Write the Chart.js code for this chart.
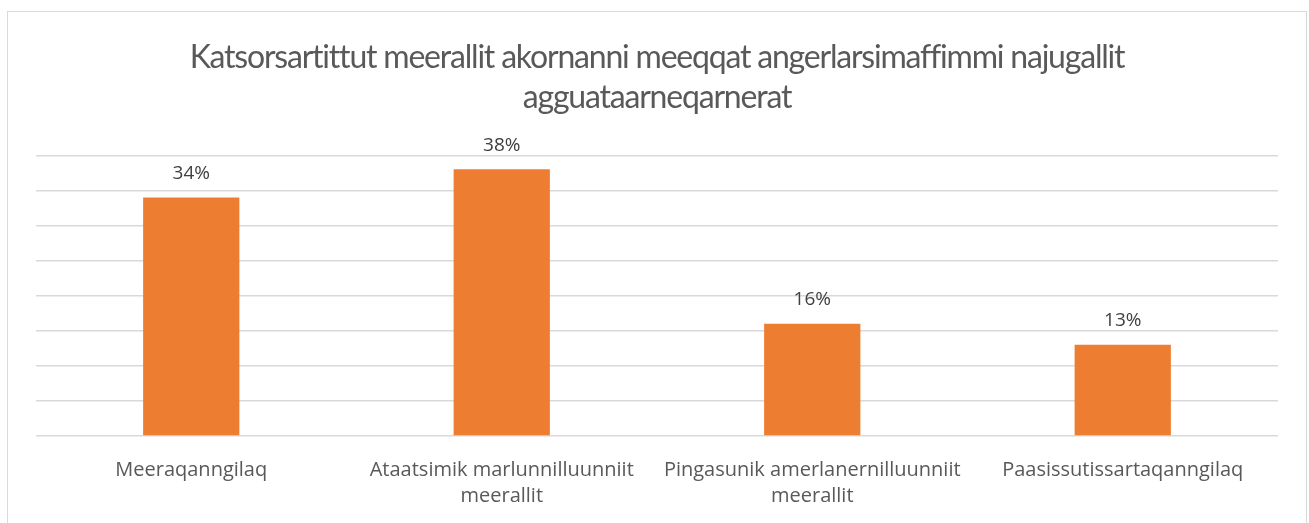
<!DOCTYPE html>
<html>
<head>
<meta charset="utf-8">
<script src="https://cdn.jsdelivr.net/npm/chart.js@4/dist/chart.umd.min.js"></script>
<style>
  html, body { margin: 0; padding: 0; background: #fff; }
  #wrap { position: relative; width: 1309px; height: 523px; overflow: hidden; }
  #frame { position: absolute; left: 7px; top: 11px; width: 1298px; height: 540px; border: 1px solid #d9d9d9; }
  canvas { position: absolute; left: 0; top: 0; }
</style>
</head>
<body>
<div id="wrap">
  <div id="frame"></div>
  <canvas id="chart" width="1309" height="523"></canvas>
</div>
<script>
var titleLines = ['Katsorsartittut meerallit akornanni meeqqat angerlarsimaffimmi najugallit', 'agguataarneqarnerat'];
var categories = [
    ['Meeraqanngilaq'],
    ['Ataatsimik marlunnilluunniit', 'meerallit'],
    ['Pingasunik amerlanernilluunniit', 'meerallit'],
    ['Paasissutissartaqanngilaq']
];
var shares = [34, 38, 16, 13];
var yMax = 40;
var yStep = 5;

// labels above the bars
var barLabels = {
    id: 'barLabels',
    afterDatasetsDraw: function (chart) {
        var c = chart.ctx;
        var meta = chart.getDatasetMeta(0);
        c.save();
        c.font = '19px "Open Sans"';
        c.fillStyle = '#404040';
        c.textAlign = 'center';
        c.textBaseline = 'middle';
        meta.data.forEach(function (bar, i) {
            c.fillText(shares[i] + '%', bar.x, bar.y - 24);
        });
        c.restore();
    }
};

// tighter letters for the title, like the original
var tightTitle = {
    id: 'tightTitle',
    afterInit: function (chart) {
        var block = chart.titleBlock;
        var orig = block.draw;
        block.draw = function () {
            var c = chart.ctx;
            c.save();
            c.letterSpacing = '-1.2px';
            orig.apply(this, arguments);
            c.restore();
        };
    }
};

var ctx = document.getElementById('chart').getContext('2d');
var shareChart = new Chart(ctx, {
    type: 'bar',
    data: {
        labels: categories,
        datasets: [{
            data: shares,
            backgroundColor: '#ed7d31',
            borderWidth: 0,
            barPercentage: 0.31,
            categoryPercentage: 1
        }]
    },
    options: {
        responsive: false,
        animation: false,
        layout: { padding: { left: 36, right: 31, top: 0, bottom: 0 } },
        plugins: {
            legend: { display: false },
            tooltip: { enabled: false },
            title: {
                display: true,
                text: titleLines,
                color: '#595959',
                font: { family: 'Lato', size: 32, weight: 'normal', lineHeight: 1.27 },
                padding: { top: 37, bottom: 37 }
            }
        },
        scales: {
            x: {
                grid: { display: false },
                border: { display: false },
                ticks: {
                    color: '#595959',
                    font: { family: '"Open Sans"', size: 20, lineHeight: 1.3 },
                    padding: 13,
                    maxRotation: 0,
                    autoSkip: false
                },
                afterFit: function (scale) { scale.height = 87; }
            },
            y: {
                min: 0,
                max: yMax,
                ticks: { display: false, stepSize: yStep },
                grid: { color: '#d9d9d9', lineWidth: 1.5, drawTicks: false },
                border: { display: false }
            }
        }
    },
    plugins: [barLabels, tightTitle]
});
</script>
</body>
</html>
